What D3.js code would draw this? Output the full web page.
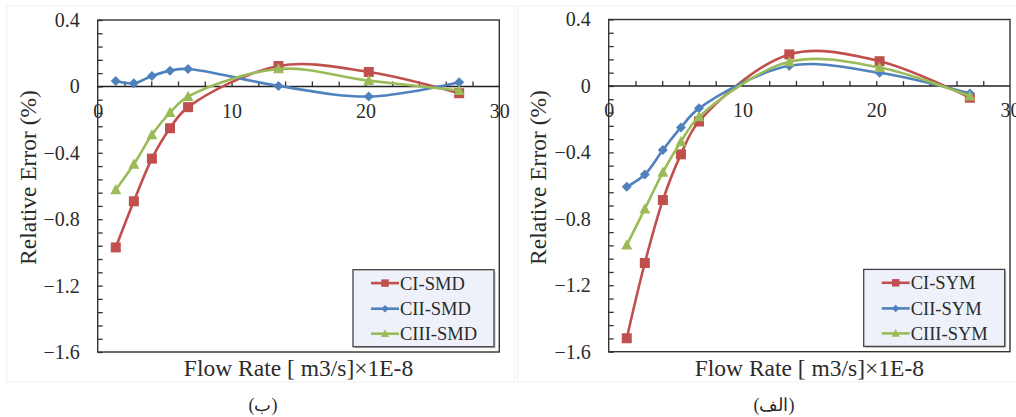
<!DOCTYPE html>
<html>
<head>
<meta charset="utf-8">
<script src="https://cdn.jsdelivr.net/npm/d3@7"></script>
<style>
  html, body { margin: 0; padding: 0; background: #fff; }
  svg { display: block; }
  text { font-family: "Liberation Serif", "Times New Roman", serif; fill: #2b2b2b; }
</style>
</head>
<body>
<svg id="chart" width="1016" height="417"></svg>
<script>
// Flow rate (×1E-8 m3/s) at each measured point
const flowRate = [1.35, 2.7, 4.05, 5.4, 6.75, 13.5, 20.25, 27];

// Relative error (%) – SMD cases
const ciSMD   = [-0.970, -0.692, -0.435, -0.252, -0.125, 0.123, 0.087, -0.041];
const ciiSMD  = [0.033, 0.019, 0.063, 0.095, 0.105, 0.003, -0.061, 0.025];
const ciiiSMD = [-0.623, -0.469, -0.292, -0.158, -0.061, 0.105, 0.035, -0.025];

// Relative error (%) – SYM cases
const ciSYM   = [-1.519, -1.066, -0.687, -0.412, -0.214, 0.190, 0.149, -0.071];
const ciiSYM  = [-0.607, -0.533, -0.386, -0.250, -0.135, 0.121, 0.079, -0.045];
const ciiiSYM = [-0.958, -0.741, -0.520, -0.336, -0.186, 0.145, 0.111, -0.061];

// Axis labels
const xTickLabels = [0, 10, 20, 30];
const yTickLabels = [0.4, 0, -0.4, -0.8, -1.2, -1.6];
const xMinorStep = 2;
const yMinorStep = 0.08;

const seriesStyles = [
  { color: "#C0504D", marker: "square" },
  { color: "#4F81BD", marker: "diamond" },
  { color: "#9BBB59", marker: "triangle" }
];

const panels = [
  { caption: "(ب)", names: ["CI-SMD", "CII-SMD", "CIII-SMD"], values: [ciSMD, ciiSMD, ciiiSMD],
    frame: { x: 7, y: 6, w: 508, h: 376 }, plot: { l: 97.7, r: 499.3, t: 20, b: 352 },
    yTitle: { x: 28, y: 177.5 }, caption_xy: { x: 263, y: 411 } },
  { caption: "(الف)", names: ["CI-SYM", "CII-SYM", "CIII-SYM"], values: [ciSYM, ciiSYM, ciiiSYM],
    frame: { x: 518, y: 6, w: 510, h: 376 }, plot: { l: 608.7, r: 1010, t: 19.5, b: 351.7 },
    yTitle: { x: 538, y: 177.5 }, caption_xy: { x: 774, y: 411 } }
];

const svg = d3.select("#chart");

function markerPath(type, size) {
  const h = size / 2;
  if (type === "square") return `M${-h},${-h}H${h}V${h}H${-h}Z`;
  if (type === "diamond") return `M0,${-h}L${h},0L0,${h}L${-h},0Z`;
  return `M0,${-h * 1.05}L${h},${h * 0.8}L${-h},${h * 0.8}Z`;
}
const markerSize = { square: 10, diamond: 10, triangle: 11 };

panels.forEach(p => {
  const g = svg.append("g");

  // faint panel outline
  g.append("rect")
    .attr("x", p.frame.x).attr("y", p.frame.y)
    .attr("width", p.frame.w).attr("height", p.frame.h)
    .attr("fill", "none").attr("stroke", "#efefef").attr("stroke-width", 1);

  const x = d3.scaleLinear().domain([0, 30]).range([p.plot.l, p.plot.r]);
  const y = d3.scaleLinear().domain([-1.6, 0.4]).range([p.plot.b, p.plot.t]);

  // minor ticks along the left edge (pointing inward)
  const yMinor = d3.range(0, 26).map(i => +(-1.6 + i * yMinorStep).toFixed(3)).filter(v => v <= 0.4);
  g.append("g")
    .attr("transform", `translate(${p.plot.l},0)`)
    .call(d3.axisRight(y).tickValues(yMinor).tickSize(5).tickFormat(""))
    .call(a => a.select(".domain").remove())
    .call(a => a.selectAll("line").attr("stroke", "#333").attr("stroke-width", 1.3));

  // minor ticks on the zero line (pointing up)
  const xMinor = d3.range(xMinorStep, 30, xMinorStep);
  g.append("g")
    .attr("transform", `translate(0,${y(0)})`)
    .call(d3.axisTop(x).tickValues(xMinor).tickSize(5).tickFormat(""))
    .call(a => a.select(".domain").remove())
    .call(a => a.selectAll("line").attr("stroke", "#333").attr("stroke-width", 1.3));

  // y tick labels
  g.append("g")
    .attr("transform", `translate(${p.plot.l},0)`)
    .call(d3.axisLeft(y).tickValues(yTickLabels).tickSize(0).tickPadding(18)
      .tickFormat(d => d === 0 ? "0" : d3.format(".1f")(d)))
    .call(a => a.select(".domain").remove())
    .call(a => a.selectAll("text").attr("font-size", 20).attr("fill", "#2b2b2b")
      .style("font-family", "'Liberation Serif', 'Times New Roman', serif"));

  // x tick labels just under the zero line
  g.append("g")
    .attr("transform", `translate(0,${y(0)})`)
    .call(d3.axisBottom(x).tickValues(xTickLabels).tickSize(0).tickPadding(17).tickFormat(d3.format("d")))
    .call(a => a.select(".domain").remove())
    .call(a => a.selectAll("text").attr("font-size", 20).attr("fill", "#2b2b2b")
      .style("font-family", "'Liberation Serif', 'Times New Roman', serif"));

  // plot frame
  g.append("rect")
    .attr("x", p.plot.l).attr("y", p.plot.t)
    .attr("width", p.plot.r - p.plot.l).attr("height", p.plot.b - p.plot.t)
    .attr("fill", "none").attr("stroke", "#333").attr("stroke-width", 1.4);

  // zero line
  g.append("line")
    .attr("x1", p.plot.l).attr("x2", p.plot.r)
    .attr("y1", y(0)).attr("y2", y(0))
    .attr("stroke", "#222").attr("stroke-width", 1.5);

  // series lines (smoothed) and markers
  const line = d3.line()
    .x(d => x(d[0])).y(d => y(d[1]))
    .curve(d3.curveCatmullRom.alpha(0.5));

  p.values.forEach((vals, i) => {
    const st = seriesStyles[i];
    const pts = flowRate.map((f, k) => [f, vals[k]]);
    g.append("path")
      .attr("d", line(pts))
      .attr("fill", "none").attr("stroke", st.color).attr("stroke-width", 2.6);
    g.append("g").selectAll("path")
      .data(pts).join("path")
      .attr("transform", d => `translate(${x(d[0])},${y(d[1])})`)
      .attr("d", markerPath(st.marker, markerSize[st.marker]))
      .attr("fill", st.color);
  });

  // legend
  const lw = 141, lh = 77;
  const lx = p.plot.r - 5.3 - lw, ly = p.plot.b - 5.3 - lh;
  const lg = g.append("g").attr("transform", `translate(${lx},${ly})`);
  lg.append("rect").attr("x", 1.5).attr("y", 1.5).attr("width", lw).attr("height", lh)
    .attr("fill", "#9a9a9a").attr("opacity", 0.6);
  lg.append("rect").attr("width", lw).attr("height", lh)
    .attr("fill", "#eef1f9").attr("stroke", "#444").attr("stroke-width", 1.3);
  const rows = [13.4, 39, 64];
  p.names.forEach((name, i) => {
    const st = seriesStyles[i];
    const ry = rows[i];
    lg.append("line").attr("x1", 18).attr("x2", 46).attr("y1", ry).attr("y2", ry)
      .attr("stroke", st.color).attr("stroke-width", 2.6);
    lg.append("path").attr("transform", `translate(32,${ry})`)
      .attr("d", markerPath(st.marker, markerSize[st.marker] * 0.75)).attr("fill", st.color);
    lg.append("text").attr("x", 47).attr("y", ry + 6.5)
      .attr("font-size", 18.5).text(name);
  });

  // axis titles
  g.append("text")
    .attr("x", (p.plot.l + p.plot.r) / 2).attr("y", 376)
    .attr("text-anchor", "middle").attr("font-size", 23.5)
    .text("Flow Rate [ m3/s]×1E-8");
  g.append("text")
    .attr("transform", `translate(${p.yTitle.x + 8},${p.yTitle.y}) rotate(-90)`)
    .attr("text-anchor", "middle").attr("font-size", 23.5)
    .text("Relative Error (%)");

  // caption
  g.append("text")
    .attr("x", p.caption_xy.x).attr("y", p.caption_xy.y)
    .attr("text-anchor", "middle").attr("font-size", 18)
    .attr("direction", "rtl")
    .text(p.caption);
});
</script>
</body>
</html>
